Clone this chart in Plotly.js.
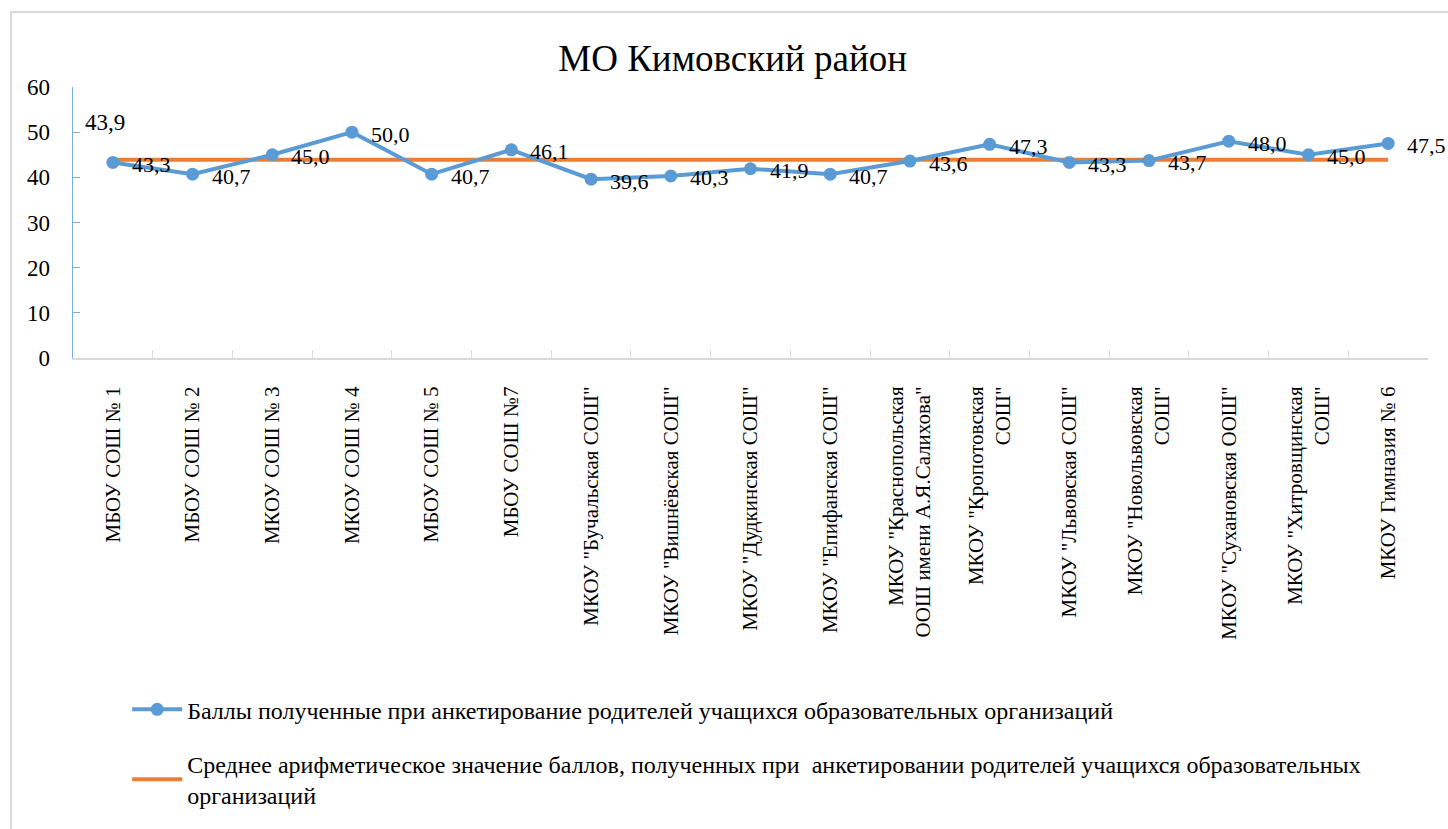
<!DOCTYPE html>
<html>
<head>
<meta charset="utf-8">
<script src="https://cdn.plot.ly/plotly-3.0.1.min.js"></script>
<style>
html, body { margin: 0; padding: 0; background: #fff; overflow: hidden; width: 1448px; height: 829px; }
#frame { position: absolute; left: 10px; top: 11px; width: 1460px; height: 840px; border: 2px solid #d9d9d9; box-sizing: border-box; }
#chart { position: absolute; left: 0; top: 0; width: 1448px; height: 829px; }
</style>
</head>
<body>
<div id="frame"></div>
<div id="chart"></div>
<script>
const chartTitle = 'МО Кимовский район';
const categories = [
  'МБОУ СОШ № 1',
  'МБОУ СОШ № 2',
  'МКОУ СОШ № 3',
  'МКОУ СОШ № 4',
  'МБОУ СОШ № 5',
  'МБОУ СОШ №7',
  'МКОУ "Бучальская СОШ"',
  'МКОУ "Вишнёвская СОШ"',
  'МКОУ "Дудкинская СОШ"',
  'МКОУ "Епифанская СОШ"',
  'МКОУ "Краснопольская<br>ООШ имени А.Я.Салихова"',
  'МКОУ "Кропотовская<br>СОШ"',
  'МКОУ "Львовская СОШ"',
  'МКОУ "Новольвовская<br>СОШ"',
  'МКОУ "Сухановская ООШ"',
  'МКОУ "Хитровщинская<br>СОШ"',
  'МКОУ Гимназия № 6'
];
const scores = [43.3, 40.7, 45.0, 50.0, 40.7, 46.1, 39.6, 40.3, 41.9, 40.7, 43.6, 47.3, 43.3, 43.7, 48.0, 45.0, 47.5];
const averageScore = 43.9;
const seriesNames = [
  'Баллы полученные при анкетирование родителей учащихся образовательных организаций',
  'Среднее арифметическое значение баллов, полученных при  анкетировании родителей учащихся образовательных<br>организаций'
];
const yTicks = [0, 10, 20, 30, 40, 50, 60];

const fmt = v => v.toFixed(1).replace('.', ',');
const serif = 'Liberation Serif';
const blue = '#5b9bd5';
const orange = '#ed7d31';

const avgLine = categories.map(() => averageScore);

const traces = [
  {
    x: categories, y: avgLine, type: 'scatter', mode: 'lines',
    name: seriesNames[1], legendgroup: 'b', legendrank: 2,
    line: { color: orange, width: 4 }, hoverinfo: 'skip'
  },
  {
    x: categories, y: scores, type: 'scatter', mode: 'lines+markers',
    name: seriesNames[0], legendgroup: 'a', legendrank: 1,
    line: { color: blue, width: 4 },
    marker: { color: blue, size: 13 }
  }
];

const annotations = scores.map((v, i) => ({
  x: categories[i], y: v, xref: 'x', yref: 'y',
  text: fmt(v), showarrow: false, xanchor: 'left', yanchor: 'middle',
  xshift: 17, yshift: -2,
  font: { family: serif, size: 22, color: '#000' }
}));
annotations.push({
  x: categories[0], y: averageScore, xref: 'x', yref: 'y',
  text: fmt(averageScore), showarrow: false, xanchor: 'center', yanchor: 'middle',
  xshift: -8, yshift: 37,
  font: { family: serif, size: 23, color: '#000' }
});

const layout = {
  width: 1448, height: 829,
  font: { family: serif, color: '#000' },
  paper_bgcolor: 'rgba(0,0,0,0)', plot_bgcolor: 'rgba(0,0,0,0)',
  margin: { l: 73, r: 20, t: 87, b: 467 },
  title: { text: chartTitle, x: 0.506, xanchor: 'center', y: 0.93, yanchor: 'middle',
           font: { family: serif, size: 37, color: '#000' } },
  showlegend: true,
  legend: {
    x: 0.04, xanchor: 'left', y: -1.215, yanchor: 'top',
    orientation: 'v', traceorder: 'grouped', tracegroupgap: 20,
    itemwidth: 50,
    font: { family: serif, size: 24, color: '#000' },
    bgcolor: 'rgba(0,0,0,0)'
  },
  xaxis: {
    type: 'category', range: [-0.5, 16.5],
    showline: true, linecolor: '#d9d9d9', linewidth: 2,
    ticks: 'inside', tickson: 'boundaries', ticklen: 8, tickcolor: '#d9d9d9', tickwidth: 1,
    tickangle: -90, ticklabelstandoff: 18,
    tickfont: { family: serif, size: 21, color: '#000' },
    showgrid: false, zeroline: false, automargin: false, fixedrange: true
  },
  yaxis: {
    range: [0, 60], tickvals: yTicks, ticktext: yTicks.map(String),
    showline: true, linecolor: '#7aaee0', linewidth: 1.5,
    ticks: 'inside', ticklen: 7, tickcolor: '#7aaee0',
    ticklabelstandoff: 17,
    tickfont: { family: serif, size: 23, color: '#000' },
    showgrid: false, zeroline: false, automargin: false, fixedrange: true
  },
  annotations: annotations
};

Plotly.newPlot('chart', traces, layout, { displayModeBar: false, staticPlot: true });
</script>
</body>
</html>
